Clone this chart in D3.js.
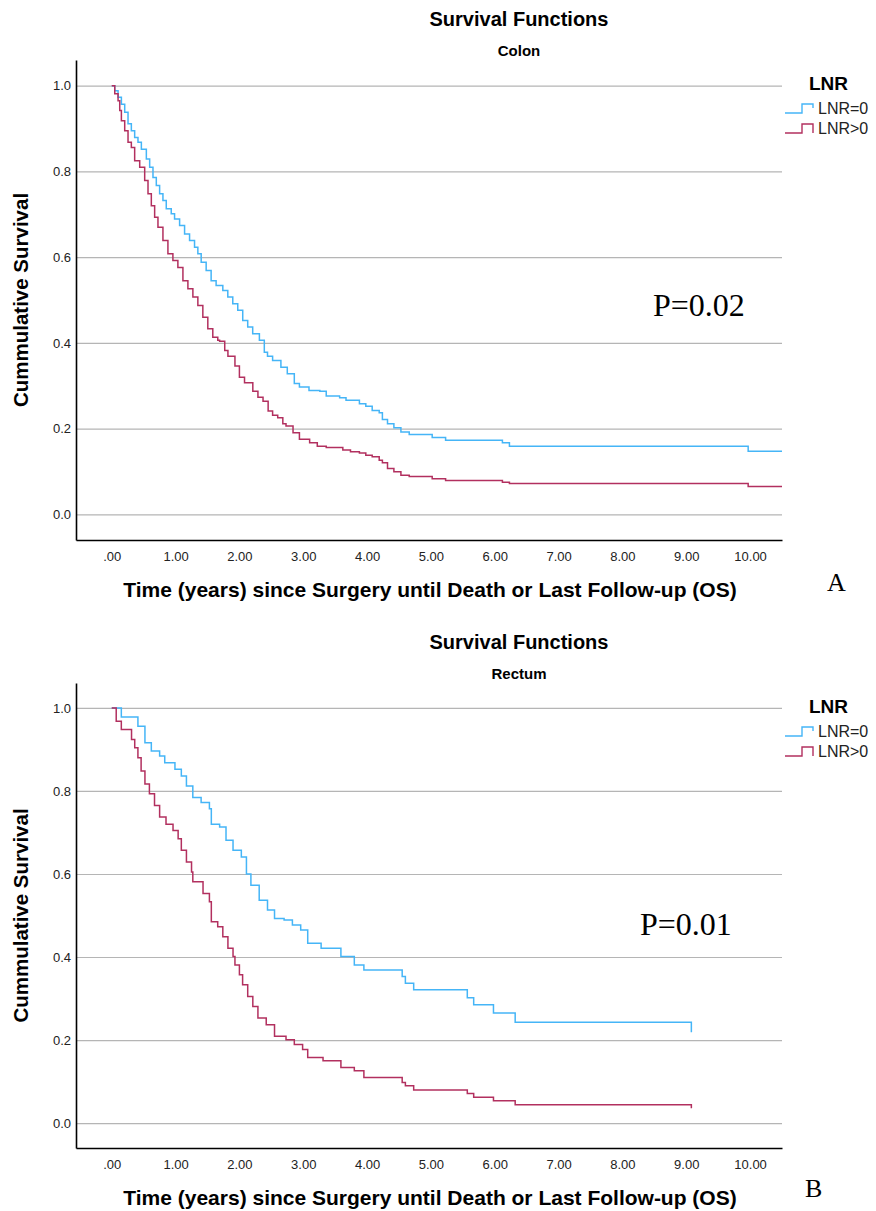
<!DOCTYPE html>
<html>
<head>
<meta charset="utf-8">
<script src="https://cdn.jsdelivr.net/npm/d3@7"></script>
<style>
  body { margin: 0; background: #fff; }
  svg { display: block; font-family: "Liberation Sans", Arial, sans-serif; }
</style>
</head>
<body>
<svg id="chart" width="876" height="1211"></svg>
<script>
// tick values
const timeTicks = [0, 1, 2, 3, 4, 5, 6, 7, 8, 9, 10];
const survTicks = [0, 0.2, 0.4, 0.6, 0.8, 1.0];
const groups = ["LNR=0", "LNR>0"];

// Colon, LNR=0  (time in years, cumulative survival)
const colonZeroTime = [0, 0.047, 0.099, 0.151, 0.203, 0.255, 0.307, 0.359, 0.411, 0.464, 0.542, 0.594, 0.646, 0.698, 0.75, 0.802, 0.854, 0.932, 0.984, 1.063, 1.141, 1.219, 1.297, 1.349, 1.401, 1.479, 1.557, 1.635, 1.74, 1.818, 1.896, 1.974, 2.052, 2.13, 2.208, 2.313, 2.39, 2.44, 2.52, 2.65, 2.75, 2.86, 2.94, 3.09, 3.26, 3.36, 3.57, 3.67, 3.88, 3.98, 4.08, 4.19, 4.24, 4.32, 4.42, 4.53, 4.66, 5.02, 5.23, 6.12, 6.23, 9.97, 10.5];
const colonZeroSurv = [1, 0.988, 0.973, 0.957, 0.938, 0.911, 0.895, 0.879, 0.868, 0.852, 0.829, 0.81, 0.786, 0.767, 0.748, 0.732, 0.713, 0.701, 0.689, 0.674, 0.654, 0.639, 0.623, 0.608, 0.588, 0.569, 0.545, 0.534, 0.522, 0.507, 0.491, 0.476, 0.452, 0.437, 0.421, 0.406, 0.378, 0.369, 0.359, 0.343, 0.328, 0.305, 0.297, 0.289, 0.287, 0.276, 0.272, 0.266, 0.258, 0.252, 0.242, 0.237, 0.221, 0.211, 0.202, 0.192, 0.186, 0.179, 0.173, 0.167, 0.159, 0.147, 0.147];

// Colon, LNR>0
const colonPosTime = [0, 0.047, 0.099, 0.125, 0.151, 0.203, 0.255, 0.307, 0.359, 0.438, 0.516, 0.568, 0.62, 0.672, 0.724, 0.802, 0.88, 0.958, 1.036, 1.115, 1.193, 1.271, 1.349, 1.427, 1.505, 1.583, 1.661, 1.69, 1.77, 1.82, 1.93, 2.0, 2.08, 2.21, 2.29, 2.37, 2.45, 2.52, 2.6, 2.68, 2.73, 2.84, 2.94, 3.1, 3.22, 3.36, 3.62, 3.74, 3.88, 3.98, 4.08, 4.19, 4.24, 4.32, 4.42, 4.53, 4.66, 5.02, 5.23, 6.12, 6.23, 9.97, 10.5];
const colonPosSurv = [1, 0.981, 0.965, 0.942, 0.918, 0.895, 0.868, 0.856, 0.825, 0.81, 0.779, 0.748, 0.72, 0.693, 0.67, 0.639, 0.608, 0.592, 0.576, 0.545, 0.526, 0.507, 0.487, 0.46, 0.433, 0.413, 0.406, 0.404, 0.382, 0.369, 0.346, 0.32, 0.307, 0.287, 0.273, 0.264, 0.241, 0.231, 0.225, 0.211, 0.206, 0.19, 0.175, 0.167, 0.159, 0.156, 0.15, 0.146, 0.143, 0.138, 0.134, 0.126, 0.12, 0.107, 0.099, 0.091, 0.088, 0.083, 0.079, 0.075, 0.072, 0.065, 0.065];

// Rectum, LNR=0
const rectumZeroTime = [0, 0.15, 0.41, 0.52, 0.62, 0.75, 0.83, 0.99, 1.09, 1.17, 1.27, 1.4, 1.53, 1.56, 1.69, 1.79, 1.9, 2.03, 2.11, 2.18, 2.31, 2.44, 2.55, 2.7, 2.83, 2.96, 3.07, 3.28, 3.59, 3.8, 3.95, 4.55, 4.6, 4.73, 5.57, 5.67, 5.98, 6.32, 9.08];
const rectumZeroSurv = [1, 0.978, 0.956, 0.916, 0.896, 0.884, 0.868, 0.852, 0.836, 0.812, 0.784, 0.772, 0.757, 0.72, 0.713, 0.681, 0.657, 0.641, 0.6, 0.573, 0.537, 0.513, 0.493, 0.489, 0.477, 0.465, 0.433, 0.421, 0.401, 0.381, 0.369, 0.353, 0.337, 0.321, 0.302, 0.285, 0.265, 0.243, 0.219];

// Rectum, LNR>0
const rectumPosTime = [0, 0.07, 0.15, 0.31, 0.36, 0.41, 0.46, 0.52, 0.59, 0.67, 0.75, 0.85, 0.96, 1.04, 1.09, 1.17, 1.25, 1.27, 1.43, 1.53, 1.56, 1.66, 1.74, 1.82, 1.9, 1.93, 2.0, 2.05, 2.13, 2.21, 2.29, 2.42, 2.55, 2.73, 2.86, 2.99, 3.07, 3.31, 3.59, 3.8, 3.95, 4.55, 4.6, 4.73, 5.57, 5.67, 5.98, 6.32, 9.08];
const rectumPosSurv = [1, 0.968, 0.948, 0.924, 0.904, 0.88, 0.848, 0.817, 0.793, 0.765, 0.737, 0.72, 0.705, 0.685, 0.657, 0.629, 0.605, 0.581, 0.553, 0.533, 0.485, 0.473, 0.449, 0.421, 0.401, 0.381, 0.357, 0.333, 0.305, 0.281, 0.253, 0.237, 0.209, 0.201, 0.189, 0.177, 0.158, 0.15, 0.134, 0.126, 0.11, 0.098, 0.09, 0.08, 0.071, 0.062, 0.054, 0.044, 0.036];

const colors = ["#45b5f7", "#b2305f"];
const left = 76, right = 782;

const svg = d3.select("#chart");

function drawPanel(opts) {
    const g = svg.append("g");

    const x = d3.scaleLinear().domain([-0.56, 10.5]).range([left, right]);
    const y = d3.scaleLinear().domain([-0.06, 1.06]).range([opts.bottom, opts.top]);

    // titles
    g.append("text")
        .attr("x", 519).attr("y", opts.top - 34)
        .attr("text-anchor", "middle")
        .style("font-weight", "bold").style("font-size", "20px")
        .text("Survival Functions");
    g.append("text")
        .attr("x", 519).attr("y", opts.top - 4)
        .attr("text-anchor", "middle")
        .style("font-weight", "bold").style("font-size", "15px")
        .text(opts.subtitle);

    // gridlines
    g.append("g")
        .attr("transform", "translate(" + left + ",0)")
        .call(d3.axisLeft(y).tickValues(survTicks).tickSize(-(right - left)).tickFormat(""))
        .call(a => a.select(".domain").remove())
        .call(a => a.selectAll("line").attr("stroke", "#b5b5b5").attr("stroke-width", 1.2));

    // y axis
    g.append("g")
        .attr("transform", "translate(" + left + ",0)")
        .call(d3.axisLeft(y).tickValues(survTicks).tickSize(0).tickSizeOuter(0).tickPadding(5)
            .tickFormat(d3.format(".1f")))
        .call(a => a.select(".domain").attr("stroke", "#000").attr("stroke-width", 1.6))
        .call(a => a.selectAll("text").style("font-size", "13px").style("font-family", "Liberation Sans, Arial, sans-serif").attr("fill", "#222"));

    // x axis
    g.append("g")
        .attr("transform", "translate(0," + opts.bottom + ")")
        .call(d3.axisBottom(x).tickValues(timeTicks).tickSize(0).tickSizeOuter(0).tickPadding(12)
            .tickFormat(d => d === 0 ? ".00" : d3.format(".2f")(d)))
        .call(a => a.select(".domain").attr("stroke", "#000").attr("stroke-width", 1.6))
        .call(a => a.selectAll("text").style("font-size", "13px").style("font-family", "Liberation Sans, Arial, sans-serif").attr("fill", "#222"));

    // axis titles
    g.append("text")
        .attr("x", 430).attr("y", opts.bottom + 57)
        .attr("text-anchor", "middle")
        .style("font-weight", "bold").style("font-size", "21px")
        .text("Time (years) since Surgery until Death or Last Follow-up (OS)");
    g.append("text")
        .attr("transform", "translate(28," + ((opts.top + opts.bottom) / 2) + ") rotate(-90)")
        .attr("text-anchor", "middle")
        .style("font-weight", "bold").style("font-size", "20.5px")
        .text("Cummulative Survival");

    // survival curves
    const line = d3.line()
        .curve(d3.curveStepAfter)
        .x(d => x(d[0]))
        .y(d => y(d[1]));

    opts.series.forEach(function(s, i) {
        g.append("path")
            .datum(d3.zip(s.time, s.surv))
            .attr("fill", "none")
            .attr("stroke", colors[i])
            .attr("stroke-width", 1.5)
            .attr("d", line);
    });

    // legend
    const lg = g.append("g").attr("transform", "translate(785," + opts.top + ")");
    lg.append("text")
        .attr("x", 24).attr("y", 30)
        .style("font-weight", "bold").style("font-size", "19px")
        .text("LNR");
    groups.forEach(function(name, i) {
        const yy = 53 + i * 20;
        lg.append("path")
            .attr("d", "M0," + yy + "H17V" + (yy - 9) + "H28V" + (yy - (i === 0 ? 5 : 0)))
            .attr("fill", "none")
            .attr("stroke", colors[i])
            .attr("stroke-width", 1.4);
        lg.append("text")
            .attr("x", 33).attr("y", yy + 1)
            .style("font-size", "16px")
            .attr("fill", "#222")
            .text(name);
    });

    // p value and panel letter
    g.append("text")
        .attr("x", opts.pX).attr("y", opts.pY)
        .style("font-family", "Liberation Serif, Times New Roman, serif")
        .style("font-size", "32px")
        .text(opts.pText);
    g.append("text")
        .attr("x", opts.letterX).attr("y", opts.letterY)
        .style("font-family", "Liberation Serif, Times New Roman, serif")
        .style("font-size", "26px")
        .text(opts.letter);
}

drawPanel({
    top: 60, bottom: 540, subtitle: "Colon",
    series: [{time: colonZeroTime, surv: colonZeroSurv}, {time: colonPosTime, surv: colonPosSurv}],
    pText: "P=0.02", pX: 653, pY: 316,
    letter: "A", letterX: 827, letterY: 591
});

drawPanel({
    top: 683, bottom: 1148, subtitle: "Rectum",
    series: [{time: rectumZeroTime, surv: rectumZeroSurv}, {time: rectumPosTime, surv: rectumPosSurv}],
    pText: "P=0.01", pX: 640, pY: 935,
    letter: "B", letterX: 805, letterY: 1197
});
</script>
</body>
</html>
